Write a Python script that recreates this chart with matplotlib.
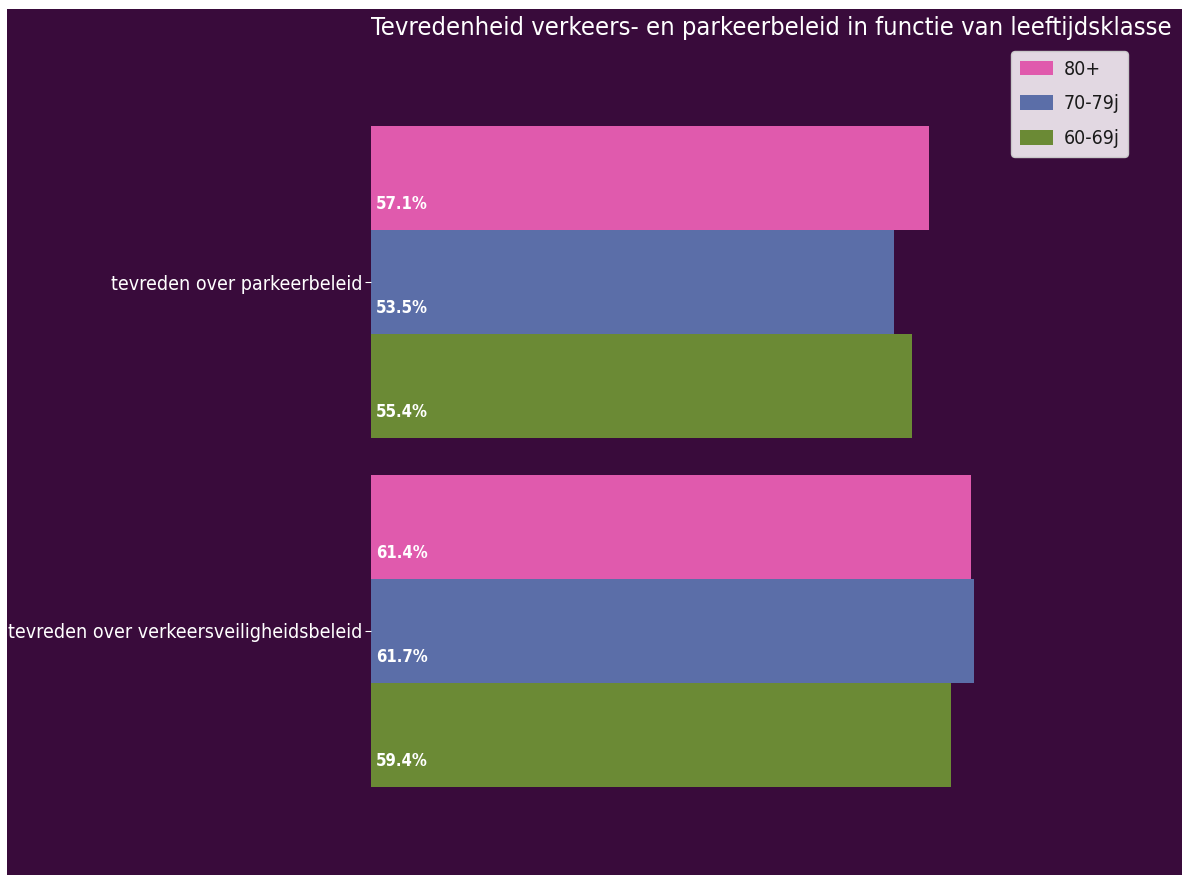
import matplotlib
matplotlib.use("Agg")
import matplotlib.pyplot as plt
import numpy as np

categories = ["tevreden over verkeersveiligheidsbeleid", "tevreden over parkeerbeleid"]
series_names = ["80+", "70-79j", "60-69j"]
values_80 = [61.4, 57.1]
values_70 = [61.7, 53.5]
values_60 = [59.4, 55.4]
colors = ["#e05aad", "#5b6ea8", "#6b8a35"]
title = "Tevredenheid verkeers- en parkeerbeleid in functie van leeftijdsklasse"

plt.rcParams["font.family"] = ["DejaVu Sans"]
plt.rcParams["font.stretch"] = "condensed"

W, H = 1182, 875
fig = plt.figure(figsize=(W / 100, H / 100), dpi=100)
fig.patch.set_facecolor("white")
bg = "#390b3b"
fig.add_artist(plt.Rectangle((7 / W, 0), 1 - 7 / W, 1 - 9 / H, transform=fig.transFigure,
                             facecolor=bg, edgecolor="none", zorder=0))

ax_l, ax_r, ax_t, ax_b = 371, 1171, 40, 870
ax = fig.add_axes([ax_l / W, 1 - ax_b / H, (ax_r - ax_l) / W, (ax_b - ax_t) / H])
ax.set_facecolor("none")

y = np.arange(len(categories))
bw = 0.298
ppu = 349.0
ax.set_ylim(0 - (ax_b - 631) / ppu, 1 + (282 - ax_t) / ppu)
ax.set_xlim(0, (ax_r - ax_l) / 9.77)

for i, (vals, name) in enumerate(zip([values_80, values_70, values_60], series_names)):
    pos = y + (1 - i) * bw
    ax.barh(pos, vals, height=bw, color=colors[i], label=name)
    for p, v in zip(pos, vals):
        ax.text(0.5, p - 0.075, f"{v}%", color="white", fontweight="bold", fontsize=12,
                va="center", ha="left")

ax.set_yticks(y)
ax.set_yticklabels(categories, color="white", fontsize=14)
ax.tick_params(axis="y", colors="white", length=4, pad=2, labelcolor="white")
ax.set_xticks([])
for s in ax.spines.values():
    s.set_visible(False)

fig.text(1172 / W, 1 - 28 / H, title, color="white", fontsize=18.3, ha="right", va="center")

leg = ax.legend(loc="upper right", bbox_to_anchor=(1128 / W, 1 - 51 / H), bbox_transform=fig.transFigure,
                fontsize=14, frameon=True, handlelength=1.7, handleheight=0.8, labelspacing=0.8,
                borderpad=0.45, handletextpad=0.55, borderaxespad=0, fancybox=True)
leg.get_frame().set_facecolor("#ece4ec")
leg.get_frame().set_alpha(0.95)
for t in leg.get_texts():
    t.set_color("#1a1a1a")

fig.savefig("out.png", dpi=100, facecolor=fig.get_facecolor())
